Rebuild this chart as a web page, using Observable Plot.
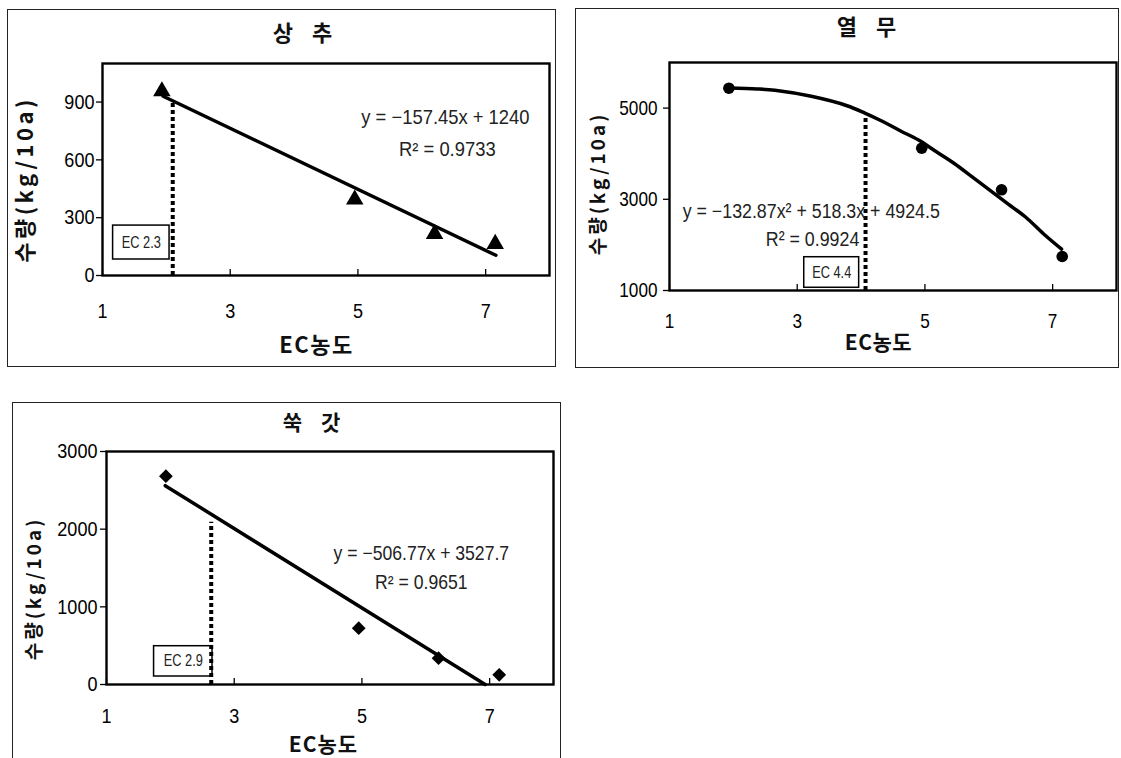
<!DOCTYPE html>
<html>
<head>
<meta charset="utf-8">
<script src="https://cdn.jsdelivr.net/npm/d3@7"></script>
<script src="https://cdn.jsdelivr.net/npm/@observablehq/plot@0.6"></script>
<style>
  html, body { margin: 0; padding: 0; background: #fff; }
  #wrap { position: relative; width: 1121px; height: 758px; overflow: hidden; background: #fff; }
  .box { position: absolute; border: 1px solid #222; box-sizing: border-box; }
  .plot { position: absolute; }
  .plot svg { overflow: visible; }
</style>
</head>
<body>
<div id="wrap"></div>
<script>
// ---------------- data ----------------
const xTicks = [1, 3, 5, 7];
const ecLevels = [1.93, 4.95, 6.2, 7.15];

// 상추 (lettuce)
const lettuceYield = [956, 394, 216, 164];
const lettuceTrendX = [1.95, 7.16];
const lettuceTrendY = [930, 105];
const lettuceYTicks = [0, 300, 600, 900];

// 열무 (young radish)
const radishYield = [5436, 4121, 3208, 1746];
const radishCurveX = [1.93, 2.37, 2.65, 3.22, 3.78, 4.06, 4.34, 4.62, 4.90, 5.18, 5.46, 5.74, 6.02, 6.30, 6.58, 6.86, 7.14];
const radishCurveY = [5442, 5420, 5390, 5258, 5052, 4890, 4705, 4499, 4300, 4042, 3785, 3490, 3195, 2900, 2606, 2238, 1906];
const radishYTicks = [1000, 3000, 5000];

// 쑥갓 (crown daisy)
const crownYield = [2682, 725, 339, 125];
const crownTrendX = [1.92, 6.93];
const crownTrendY = [2560, 0];
const crownYTicks = [0, 1000, 2000, 3000];

const titles = ["상 추", "열 무", "쑥 갓"];
const yLabel = "수량(kg/10a)";
const xLabel = "EC농도";
const equations = [
  ["y = −157.45x + 1240", "R² = 0.9733"],
  ["y = −132.87x² + 518.3x + 4924.5", "R² = 0.9924"],
  ["y = −506.77x + 3527.7", "R² = 0.9651"]
];
const ecLabels = ["EC 2.3", "EC 4.4", "EC 2.9"];
const cutX = [2.10, 4.07, 2.64];
const cutTop = [908, 4838, 2090];

// ---------------- drawing ----------------
const NARROW = "'Liberation Sans Narrow', 'Arial Narrow', 'Liberation Sans', Arial, sans-serif";
const KO = "'Noto Sans CJK KR', 'Noto Sans', sans-serif";

const zip = (xs, ys) => xs.map((x, i) => ({x, y: ys[i]}));

const panels = [
  {
    box: {left: 7, top: 9, w: 549, h: 358},
    m: {l: 95, t: 54, r: 7, b: 92},
    yDomain: [0, 1100], yTicks: lettuceYTicks,
    pts: zip(ecLevels, lettuceYield), symbol: "triangle", r: 6.5,
    trend: zip(lettuceTrendX, lettuceTrendY), curve: "linear",
    title: titles[0], eq: equations[0],
    eqPos: [{x: 6.37, y: 821}, {x: 6.40, y: 654}],
    ec: ecLabels[0], ecBox: {x1: 1.166, x2: 2.05, y1: 83, y2: 259}, ecSize: 16,
    cut: {x: cutX[0], top: cutTop[0]},
    tDx: -20, tDy: -30, tSize: 22,
    yLx: -77, yLy: 10, yLsize: 22, yLspace: 3.5,
    xLx: -9.5, xLy: 70, xLsize: 22, xLspace: 1.5,
    xPad: 28, yPad: 2, tickFont: 21, tickScale: 0.86, eqFont: 20, eqScale: 0.92
  },
  {
    box: {left: 575, top: 8, w: 544, h: 360},
    m: {l: 94, t: 54, r: 3, b: 78},
    yDomain: [1000, 6000], yTicks: radishYTicks,
    pts: zip(ecLevels, radishYield), symbol: "circle", r: 5.8,
    trend: zip(radishCurveX, radishCurveY), curve: "catmull-rom",
    title: titles[1], eq: equations[1],
    eqPos: [{x: 3.22, y: 2739}, {x: 3.24, y: 2118}],
    ec: ecLabels[1], ecBox: {x1: 3.11, x2: 3.97, y1: 1060, y2: 1730}, ecSize: 16,
    cut: {x: cutX[1], top: cutTop[1]},
    tDx: -23, tDy: -35, tSize: 22,
    yLx: -71, yLy: 7, yLsize: 19, yLspace: 3,
    xLx: -14.5, xLy: 53, xLsize: 21, xLspace: 0.5,
    xPad: 23, yPad: 6, tickFont: 20, tickScale: 0.86, eqFont: 20, eqScale: 0.89
  },
  {
    box: {left: 12, top: 402, w: 549, h: 360},
    m: {l: 94, t: 49, r: 8, b: 78},
    yDomain: [0, 3000], yTicks: crownYTicks,
    pts: zip(ecLevels, crownYield), symbol: "diamond2", r: 6.2,
    trend: zip(crownTrendX, crownTrendY), curve: "linear",
    title: titles[2], eq: equations[2],
    eqPos: [{x: 5.93, y: 1683}, {x: 5.93, y: 1317}],
    ec: ecLabels[2], ecBox: {x1: 1.745, x2: 2.66, y1: 103, y2: 493}, ecSize: 16,
    cut: {x: cutX[2], top: cutTop[2]},
    tDx: -15, tDy: -28, tSize: 21,
    yLx: -72, yLy: 20.5, yLsize: 19, yLspace: 3,
    xLx: -6.5, xLy: 61, xLsize: 21, xLspace: 1,
    xPad: 24, yPad: 3, tickFont: 21, tickScale: 0.86, eqFont: 20, eqScale: 0.88
  }
];

const wrap = document.getElementById("wrap");

function squeeze(t, s) {
  const tr = t.getAttribute("transform");
  if (tr) {
    t.setAttribute("transform", tr + ` scale(${s},1)`);
  } else {
    const x = +t.getAttribute("x") || 0, y = +t.getAttribute("y") || 0;
    t.removeAttribute("x"); t.removeAttribute("y");
    t.setAttribute("transform", `translate(${x},${y}) scale(${s},1)`);
  }
}

for (const p of panels) {
  const border = document.createElement("div");
  border.className = "box";
  Object.assign(border.style, {left: p.box.left + "px", top: p.box.top + "px", width: p.box.w + "px", height: p.box.h + "px"});
  wrap.appendChild(border);

  const holder = document.createElement("div");
  holder.className = "plot";
  Object.assign(holder.style, {left: p.box.left + "px", top: p.box.top + "px"});
  wrap.appendChild(holder);

  const yMin = p.yDomain[0];
  const chart = Plot.plot({
    width: p.box.w,
    height: p.box.h,
    marginLeft: p.m.l, marginTop: p.m.t, marginRight: p.m.r, marginBottom: p.m.b,
    x: {domain: [1, 8]},
    y: {domain: p.yDomain},
    style: {fontFamily: NARROW, background: "transparent", color: "#000", overflow: "visible"},
    marks: [
      Plot.axisY({ticks: p.yTicks, tickSize: 6, tickPadding: p.yPad, fontSize: p.tickFont, fontFamily: NARROW, label: null, tickFormat: d => String(d), stroke: "#000", strokeWidth: 1.3}),
      Plot.axisX({ticks: xTicks, tickSize: -6, tickFormat: () => "", label: null, stroke: "#000", strokeWidth: 1.3}),
      Plot.axisX({ticks: xTicks, tickSize: 0, tickPadding: p.xPad, fontSize: p.tickFont, fontFamily: NARROW, label: null, tickFormat: d => String(d)}),
      Plot.rect([p.ecBox], {x1: "x1", x2: "x2", y1: "y1", y2: "y2", fill: "#fff", stroke: "#000", strokeWidth: 1.5}),
      Plot.text([p.ec], {x: (p.ecBox.x1 + p.ecBox.x2) / 2, y: (p.ecBox.y1 + p.ecBox.y2) / 2, text: d => d, fontSize: p.ecSize, fontFamily: NARROW, fill: "#222"}),
      Plot.ruleX([p.cut], {x: "x", y1: yMin, y2: "top", stroke: "#000", strokeWidth: 4, strokeDasharray: "4,3"}),
      Plot.line(p.trend, {x: "x", y: "y", stroke: "#000", strokeWidth: 3.5, curve: p.curve}),
      Plot.dot(p.pts, {x: "x", y: "y", symbol: p.symbol, r: p.r, fill: "#000", stroke: "none"}),
      Plot.text(p.eq.map((t, i) => ({t, ...p.eqPos[i]})), {x: "x", y: "y", text: "t", fontSize: p.eqFont, fontFamily: NARROW, fill: "#222"}),
      Plot.frame({stroke: "#000", strokeWidth: 2.4}),
      Plot.text([p.title], {frameAnchor: "top", textAnchor: "middle", lineAnchor: "middle", dx: p.tDx, dy: p.tDy, text: d => d, fontSize: p.tSize, fontWeight: "bold", fontFamily: KO, fill: "#111"}),
      Plot.text([yLabel], {frameAnchor: "left", textAnchor: "middle", lineAnchor: "middle", dx: p.yLx, dy: p.yLy, rotate: -90, text: d => d, fontSize: p.yLsize, fontWeight: "bold", fontFamily: KO, fill: "#111"}),
      Plot.text([xLabel], {frameAnchor: "bottom", textAnchor: "middle", lineAnchor: "middle", dx: p.xLx, dy: p.xLy, text: d => d, fontSize: p.xLsize, fontWeight: "bold", fontFamily: KO, fill: "#111"})
    ]
  });
  const eqSet = new Set(p.eq);
  chart.querySelectorAll("text").forEach(t => {
    const s = t.textContent;
    if (s === yLabel) t.style.letterSpacing = p.yLspace + "px";
    else if (titles.includes(s)) t.style.letterSpacing = "7px";
    else if (s === xLabel) t.style.letterSpacing = p.xLspace + "px";
    else if (eqSet.has(s)) squeeze(t, p.eqScale);
    else if (ecLabels.includes(s)) squeeze(t, 0.8);
    else if (s !== "") squeeze(t, p.tickScale);
  });
  holder.appendChild(chart);
}
</script>
</body>
</html>
